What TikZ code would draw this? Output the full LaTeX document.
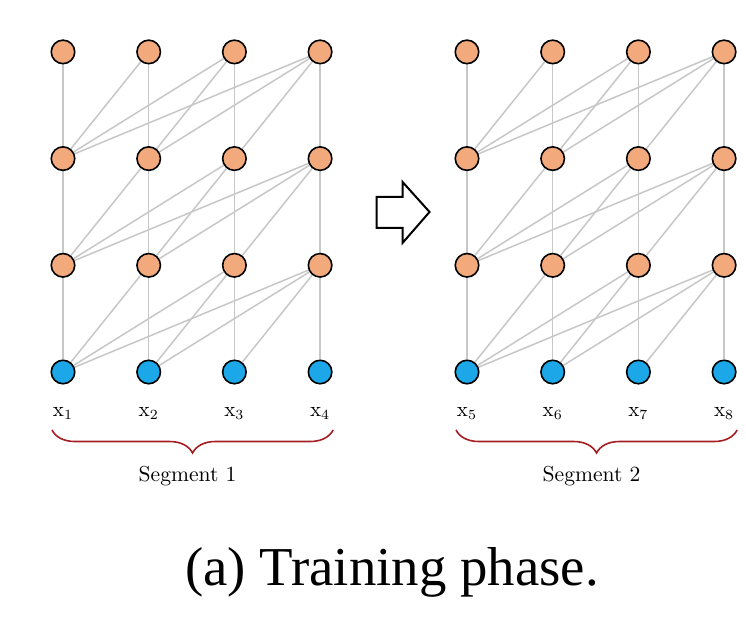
\documentclass[tikz,border=0pt]{standalone}
\usepackage{fontspec}
\newfontfamily\capfont{Liberation Serif}
\usetikzlibrary{calc,positioning,backgrounds,decorations.pathreplacing}
\definecolor{hidorange}{RGB}{242,169,124}
\definecolor{inblue}{RGB}{28,168,232}
\definecolor{bracered}{RGB}{165,30,35}
\tikzset{
  unitnode/.style={circle, draw=black, line width=0.8pt, minimum size=11.75pt, inner sep=0pt},
  hnode/.style={unitnode, fill=hidorange},
  xnode/.style={unitnode, fill=inblue},
  attlink/.style={draw=black!22, line width=0.75pt},
  toklabel/.style={font=\fontsize{10.5}{12}\selectfont, inner sep=1pt},
  seglabel/.style={font=\fontsize{10.8}{13}\selectfont, inner sep=0pt, anchor=base},
  segbrace/.style={draw=bracered, line width=0.8pt, decorate,
    decoration={brace, mirror, amplitude=11.5pt}},
  shiftarrow/.style={draw=black, line width=1pt, fill=white, line join=miter}
}

\begin{document}
\begin{tikzpicture}[x=0.5pt, y=-0.5pt]
  \useasboundingbox (0,0) rectangle (746,638);

  % two segments of four tokens, three hidden layers each
  \foreach \s/\xo in {1/63, 2/467} {
    \foreach \c in {1,...,4} {
      \node[xnode] (n-\s-0-\c) at ({\xo+85.7*(\c-1)},372) {};
      \foreach \l in {1,2,3}
        \node[hnode] (n-\s-\l-\c) at ({\xo+85.7*(\c-1)},{372-106.7*\l}) {};
      \pgfmathtruncatemacro\k{4*(\s-1)+\c}
      \node[toklabel, below=10pt of n-\s-0-\c] (x-\k) {$\mathrm{x}_{\k}$};
    }
    % brace and segment name
    \coordinate (bl-\s) at ($(n-\s-0-1)+(-11,58)$);
    \coordinate (br-\s) at ($(n-\s-0-4)+(13,58)$);
    \draw[segbrace] (bl-\s) -- (br-\s);
    \node[seglabel] (seg-\s) at ($(bl-\s)!0.5!(br-\s)+(-5,51)$) {Segment \s};
  }

  % causal links: node j sees nodes i <= j of the layer below, same segment only
  \begin{scope}[on background layer]
    \foreach \s in {1,2}
      \foreach \l in {1,2,3}
        \foreach \c in {1,...,4}
          \foreach \i in {1,...,\c} {
            \pgfmathtruncatemacro\p{\l-1}
            \draw[attlink] (n-\s-\l-\c) -- (n-\s-\p-\i);
          }
  \end{scope}

  % block arrow between the segments
  \coordinate (mid) at ($(n-1-1-4)!0.5!(n-2-2-1)$);
  \draw[shiftarrow] ($(mid)+(-17,-15)$) -- ($(mid)+(9,-15)$) -- ($(mid)+(9,-30)$)
    -- ($(mid)+(36,0)$) -- ($(mid)+(9,31)$) -- ($(mid)+(9,16)$)
    -- ($(mid)+(-17,16)$) -- cycle;

  \node[font=\capfont\fontsize{27.4}{30}\selectfont, anchor=base, inner sep=0pt]
    (caption) at (392,585) {(a) Training phase.};
\end{tikzpicture}
\end{document}
